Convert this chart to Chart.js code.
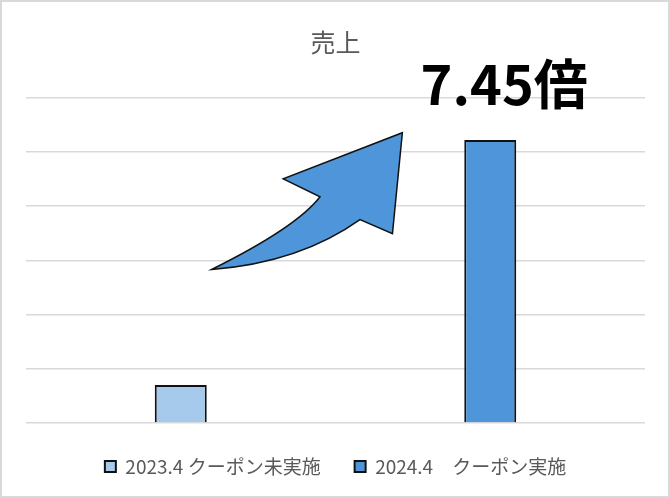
<!DOCTYPE html>
<html>
<head>
<meta charset="utf-8">
<script src="https://cdn.jsdelivr.net/npm/chart.js@4"></script>
<style>
  html, body { margin: 0; padding: 0; background: #fff; }
  #frame { width: 670px; height: 498px; box-sizing: border-box; border: 2px solid #d9d9d9; background: #fff; }
  #c { display: block; }
</style>
</head>
<body>
<div id="frame"><canvas id="c" width="666" height="494"></canvas></div>
<script>
// ---- data ----
const categories = ["2023.4 クーポン未実施", "2024.4　クーポン実施"];
const seriesLabels = ["2023.4 クーポン未実施", "2024.4　クーポン実施"];
const sales2023 = [0.70, null];
const sales2024 = [null, 5.215];
const titleText = "売上";
const ratioText = "7.45倍";
// annotation anchor in data space: [category index, value]
const ratioAnchor = [0.775, 5.86];
// arrow outline in data space: [category index, value]
const arrowTail = [0.100, 2.83];
const arrowUpperCtrl = [0.375, 3.61];
const arrowNotchIn = [0.450, 4.17];
const arrowNotchOut = [0.331, 4.50];
const arrowTip = [0.716, 5.35];
const arrowBarb = [0.684, 3.49];
const arrowInnerLow = [0.579, 3.75];
const arrowLowerCtrl = [0.385, 2.96];

const fontJP = '"Noto Sans CJK JP", "Noto Sans", sans-serif';

const overlayPlugin = {
  id: 'overlay',
  afterDatasetsDraw(chart) {
    const ctx = chart.ctx;
    const xs = chart.scales.x, ys = chart.scales.y;
    const P = p => [xs.getPixelForValue(p[0]), ys.getPixelForValue(p[1])];
    // arrow
    const t = P(arrowTail), c1 = P(arrowUpperCtrl), ni = P(arrowNotchIn), no = P(arrowNotchOut),
          tip = P(arrowTip), b = P(arrowBarb), il = P(arrowInnerLow), c2 = P(arrowLowerCtrl);
    ctx.save();
    ctx.beginPath();
    ctx.moveTo(t[0], t[1]);
    ctx.quadraticCurveTo(c1[0], c1[1], ni[0], ni[1]);
    ctx.lineTo(no[0], no[1]);
    ctx.lineTo(tip[0], tip[1]);
    ctx.lineTo(b[0], b[1]);
    ctx.lineTo(il[0], il[1]);
    ctx.quadraticCurveTo(c2[0], c2[1], t[0], t[1]);
    ctx.closePath();
    ctx.fillStyle = '#4e95d9';
    ctx.fill();
    ctx.lineWidth = 1.5;
    ctx.strokeStyle = '#111';
    ctx.lineJoin = 'miter';
    ctx.stroke();
    // ratio text
    const a = P(ratioAnchor);
    ctx.fillStyle = '#000';
    ctx.font = 'bold 54px ' + fontJP;
    ctx.textAlign = 'left';
    ctx.textBaseline = 'alphabetic';
    ctx.fillText(ratioText, a[0], a[1]);
    ctx.restore();
  }
};

new Chart(document.getElementById('c'), {
  type: 'bar',
  data: {
    labels: categories,
    datasets: [
      { label: seriesLabels[0], data: sales2023, backgroundColor: '#a6caec', borderColor: '#111', borderWidth: 2 },
      { label: seriesLabels[1], data: sales2024, backgroundColor: '#4e95d9', borderColor: '#111', borderWidth: 2 }
    ]
  },
  options: {
    responsive: false,
    animation: false,
    grouped: false,
    categoryPercentage: 1,
    barPercentage: 0.168,
    layout: { padding: { left: 24, right: 23, top: 0, bottom: 10 } },
    plugins: {
      title: {
        display: true, text: titleText, color: '#595959',
        font: { family: fontJP, size: 25, weight: 'normal' },
        padding: { top: 25.5, bottom: 40 }
      },
      legend: {
        position: 'bottom',
        labels: {
          boxWidth: 11, boxHeight: 11, padding: 34, color: '#595959',
          font: { family: fontJP, size: 19 }
        }
      },
      tooltip: { enabled: false }
    },
    scales: {
      x: {
        ticks: { display: false },
        grid: { display: false, drawTicks: false },
        border: { display: false }
      },
      y: {
        min: 0, max: 6,
        ticks: { display: false, stepSize: 1 },
        grid: { color: '#d9d9d9', lineWidth: 1.5, drawTicks: false },
        border: { display: false }
      }
    }
  },
  plugins: [overlayPlugin]
});
</script>
</body>
</html>
